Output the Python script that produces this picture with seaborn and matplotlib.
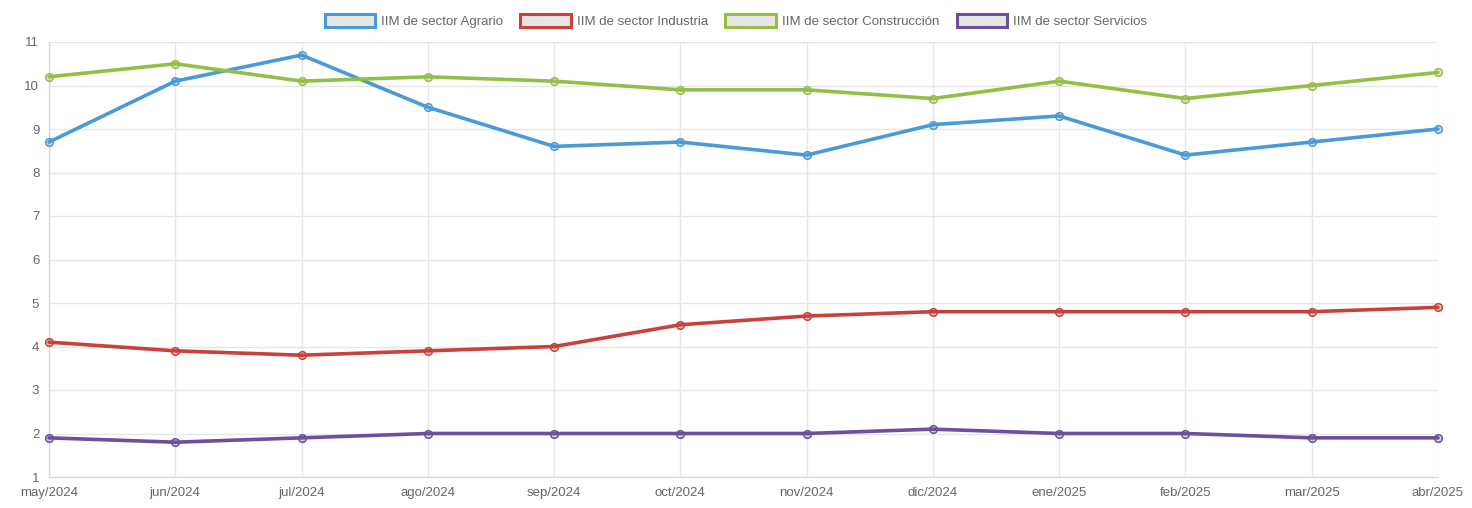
import matplotlib
matplotlib.use("Agg")
import matplotlib.pyplot as plt
import pandas as pd
import seaborn as sns
from matplotlib.patches import Patch

months = ["may/2024", "jun/2024", "jul/2024", "ago/2024", "sep/2024", "oct/2024",
          "nov/2024", "dic/2024", "ene/2025", "feb/2025", "mar/2025", "abr/2025"]
agrario = [8.7, 10.1, 10.7, 9.5, 8.6, 8.7, 8.4, 9.1, 9.3, 8.4, 8.7, 9.0]
industria = [4.1, 3.9, 3.8, 3.9, 4.0, 4.5, 4.7, 4.8, 4.8, 4.8, 4.8, 4.9]
construccion = [10.2, 10.5, 10.1, 10.2, 10.1, 9.9, 9.9, 9.7, 10.1, 9.7, 10.0, 10.3]
servicios = [1.9, 1.8, 1.9, 2.0, 2.0, 2.0, 2.0, 2.1, 2.0, 2.0, 1.9, 1.9]

series_names = ["IIM de sector Agrario", "IIM de sector Industria",
                "IIM de sector Construcción", "IIM de sector Servicios"]
colors = ["#4a9ad8", "#c8413b", "#93bf47", "#6e4f9e"]

df = pd.DataFrame({
    "mes": months * 4,
    "x": list(range(len(months))) * 4,
    "valor": agrario + industria + construccion + servicios,
    "serie": [n for n in series_names for _ in months],
})

sns.set_theme(style="white")
plt.rcParams["font.family"] = ["Liberation Sans", "DejaVu Sans"]

fig = plt.figure(figsize=(14.72, 5.08), dpi=100)
ax = fig.add_axes([49 / 1472, 1 - 477 / 508, (1438 - 49) / 1472, (477 - 42) / 508])

for name, col in zip(series_names, colors):
    sub = df[df["serie"] == name]
    sns.lineplot(data=sub, x="x", y="valor", ax=ax, color=col, linewidth=2.6,
                 marker="o", markersize=5.5, markerfacecolor=col + "44",
                 markeredgecolor=col, markeredgewidth=1.1, legend=False,
                 clip_on=False, zorder=3)

ax.set_xlim(0, len(months) - 1)
ax.set_ylim(1, 11)
ax.set_xticks(range(len(months)))
ax.set_xticklabels(months)
ax.set_yticks(range(1, 12))
ax.set_xlabel("")
ax.set_ylabel("")
ax.grid(True, color="#e6e6e6", linewidth=1)
ax.set_axisbelow(True)
for s in ["top", "right"]:
    ax.spines[s].set_visible(False)
for s in ["left", "bottom"]:
    ax.spines[s].set_color("#d9d9d9")
    ax.spines[s].set_linewidth(1)
ax.tick_params(axis="both", colors="#666666", labelsize=9.5, length=5, width=1,
               pad=2)
ax.tick_params(axis="both", color="#e0e0e0")

handles = [Patch(facecolor="#e6e6e6", edgecolor=c, linewidth=2.2) for c in colors]
fig.legend(handles, series_names, loc="upper center", bbox_to_anchor=(0.5, 0.995),
           ncol=4, frameon=False, fontsize=9.5, handlelength=3.8, handleheight=1.1,
           handletextpad=0.5, columnspacing=1.3, labelcolor="#666666")

fig.savefig("out.png", dpi=100)
